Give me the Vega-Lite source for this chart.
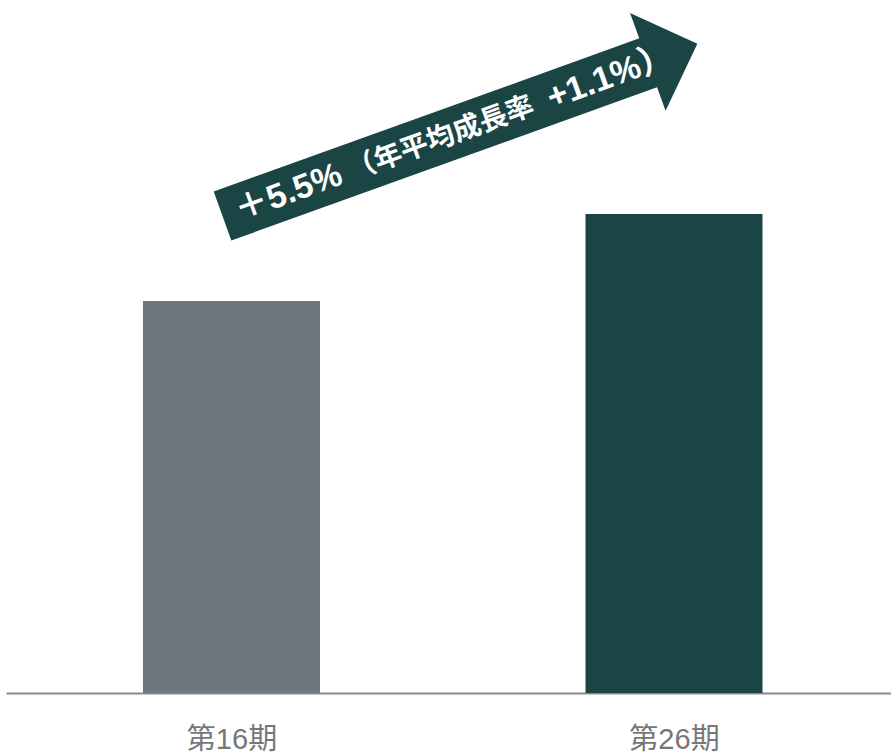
{
  "$schema": "https://vega.github.io/schema/vega-lite/v6.json",
  "width": 885,
  "height": 693,
  "autosize": {"type": "none"},
  "padding": {"left": 6, "top": 0, "right": 0, "bottom": 62},
  "background": "white",
  "config": {"view": {"stroke": null}},
  "datasets": {
    "periods": [
      {"period": "第16期", "num": 16, "value": 100},
      {"period": "第26期", "num": 26, "value": 122.2}
    ],
    "shaft": [
      {"x": 15.797, "y": 121.68, "x2": 25.464, "y2": 160.97}
    ],
    "head": [
      {"x": 25.968, "y": 163.34}
    ],
    "bigText": [
      {"text": "＋5.5%", "x": 17.288, "y": 127.55},
      {"text": "+1.1%）", "x": 24.561, "y": 157.14}
    ],
    "smallText": [
      {"text": "（年平均成長率", "x": 20.735, "y": 141.33}
    ]
  },
  "layer": [
    {
      "data": {"name": "periods"},
      "mark": {"type": "bar", "width": 177},
      "encoding": {
        "x": {
          "field": "num",
          "type": "quantitative",
          "scale": {"domain": [10.904, 30.904], "nice": false, "zero": false, "padding": 0},
          "axis": {
            "values": [16, 26],
            "labelExpr": "'第' + datum.value + '期'",
            "title": null,
            "grid": false,
            "ticks": false,
            "tickSize": 0,
            "labelPadding": 32,
            "labelFontSize": 29,
            "labelFont": "Liberation Sans, Noto Sans CJK JP",
            "labelColor": "#777777",
            "labelBaseline": "top",
            "labelFlush": false,
            "labelOverlap": false,
            "labelBound": false,
            "domainColor": "#8a8a8a",
            "domainWidth": 2
          }
        },
        "y": {
          "field": "value",
          "type": "quantitative",
          "scale": {"domain": [0, 176.8], "nice": false, "padding": 0},
          "axis": null
        },
        "color": {
          "field": "period",
          "type": "nominal",
          "scale": {"domain": ["第16期", "第26期"], "range": ["#6f767d", "#1b4545"]},
          "legend": null
        }
      }
    },
    {
      "data": {"name": "shaft"},
      "mark": {"type": "rule", "strokeWidth": 52, "strokeCap": "butt", "color": "#1b4545"},
      "encoding": {
        "x": {"field": "x", "type": "quantitative", "scale": {"domain": [10.904, 30.904], "nice": false, "zero": false, "padding": 0}},
        "y": {"field": "y", "type": "quantitative", "scale": {"domain": [0, 176.8], "nice": false, "padding": 0}},
        "x2": {"field": "x2"},
        "y2": {"field": "y2"}
      }
    },
    {
      "data": {"name": "head"},
      "mark": {
        "type": "point",
        "shape": "M-0.507,-1L0.507,0L-0.507,1Z",
        "size": 10816,
        "angle": 340,
        "filled": true,
        "opacity": 1,
        "color": "#1b4545",
        "strokeWidth": 0
      },
      "encoding": {
        "x": {"field": "x", "type": "quantitative", "scale": {"domain": [10.904, 30.904], "nice": false, "zero": false, "padding": 0}},
        "y": {"field": "y", "type": "quantitative", "scale": {"domain": [0, 176.8], "nice": false, "padding": 0}}
      }
    },
    {
      "data": {"name": "bigText"},
      "mark": {
        "type": "text",
        "angle": 340,
        "align": "center",
        "baseline": "middle",
        "font": "Liberation Sans, Noto Sans CJK JP",
        "fontWeight": "bold",
        "fontSize": 34,
        "color": "white"
      },
      "encoding": {
        "x": {"field": "x", "type": "quantitative", "scale": {"domain": [10.904, 30.904], "nice": false, "zero": false, "padding": 0}},
        "y": {"field": "y", "type": "quantitative", "scale": {"domain": [0, 176.8], "nice": false, "padding": 0}},
        "text": {"field": "text"}
      }
    },
    {
      "data": {"name": "smallText"},
      "mark": {
        "type": "text",
        "angle": 340,
        "align": "center",
        "baseline": "middle",
        "font": "Noto Sans CJK JP",
        "fontWeight": "bold",
        "fontSize": 28,
        "color": "white"
      },
      "encoding": {
        "x": {"field": "x", "type": "quantitative", "scale": {"domain": [10.904, 30.904], "nice": false, "zero": false, "padding": 0}},
        "y": {"field": "y", "type": "quantitative", "scale": {"domain": [0, 176.8], "nice": false, "padding": 0}},
        "text": {"field": "text"}
      }
    }
  ]
}
